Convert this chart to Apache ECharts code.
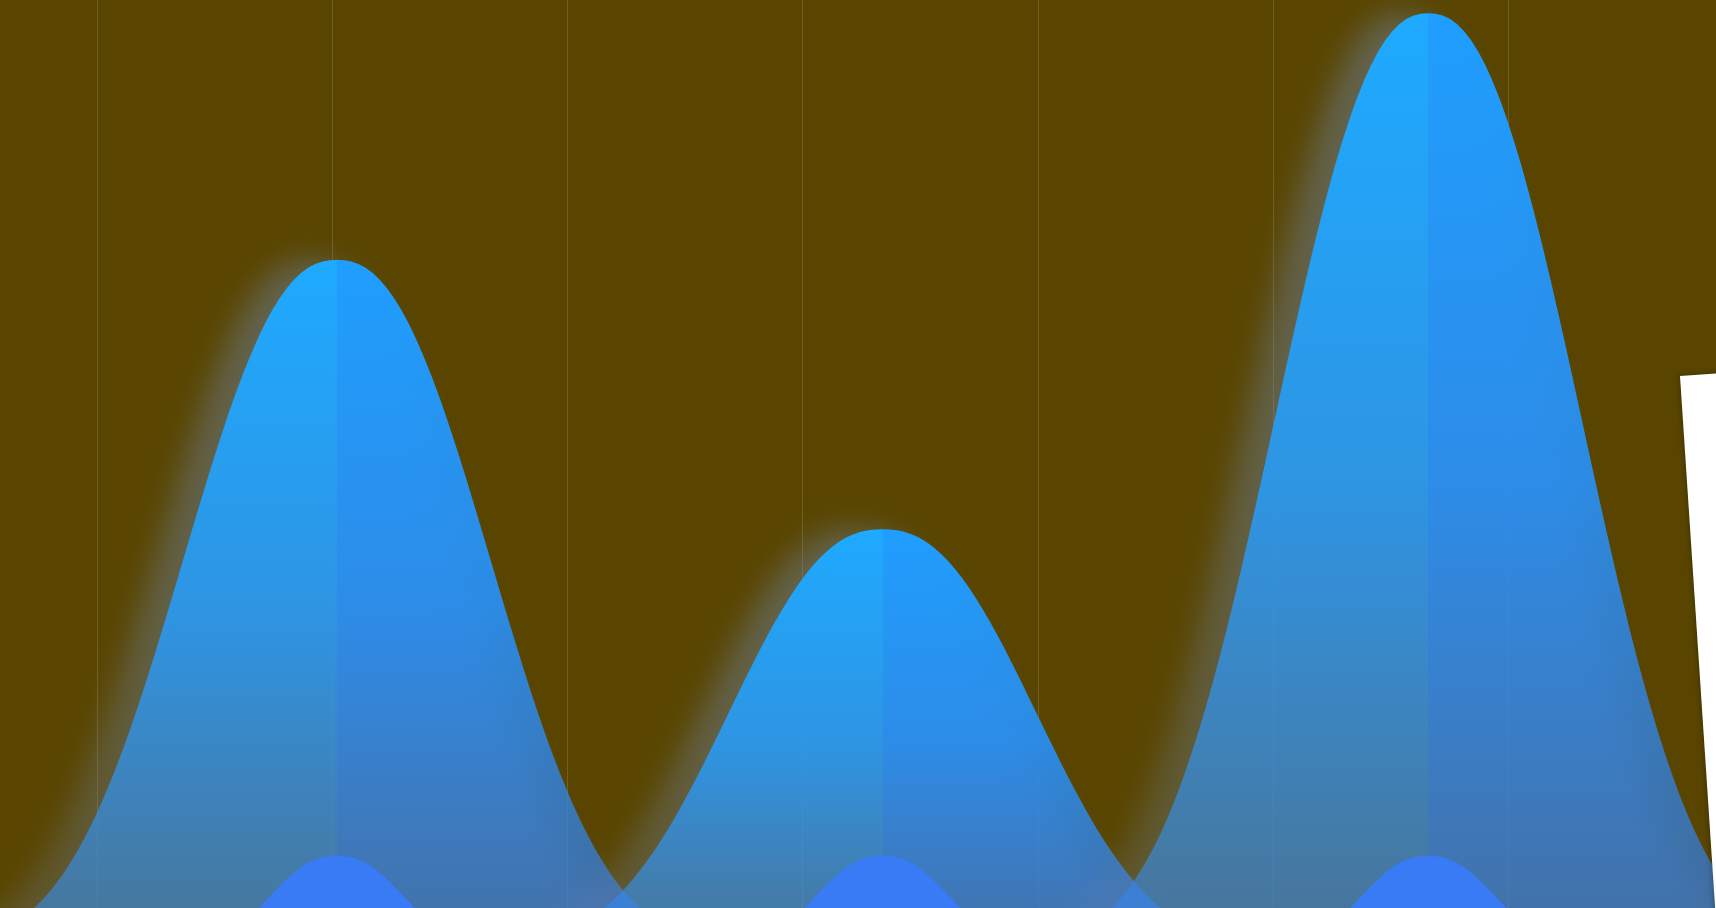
<!DOCTYPE html>
<html>
<head>
<meta charset="utf-8">
<script src="https://cdn.jsdelivr.net/npm/echarts@6/dist/echarts.min.js"></script>
<style>
html,body{margin:0;padding:0;background:#594500;}
#chart{width:1716px;height:908px;}
</style>
</head>
<body>
<div id="chart"></div>
<script>
// ---- data ----
const categories = ['A', 'B', 'C'];
const peakValues = [72.7, 44.4, 98.6];
const baseValues = [10.1, 10.1, 10.1];
const gridTicks = [0, 1, 2, 3, 4, 5, 6];

// ---- bell symbol shape ----
function bellPath() {
  const pts = [];
  const n = 120;
  for (let i = 0; i <= n; i++) {
    const u = -1 + 2 * i / n;
    const h = Math.exp(-Math.pow(Math.abs(u) * 2.2, 2.33));
    pts.push(((u + 1) * 100).toFixed(2) + ',' + ((1 - h) * 100).toFixed(2));
  }
  return 'path://M0,100 L' + pts.join(' L') + ' L200,100 Z';
}
const bell = bellPath();

const chart = echarts.init(document.getElementById('chart'));
chart.setOption({
  backgroundColor: '#594500',
  animation: false,
  grid: [
    { left: 97.4, width: 1410.6, top: 0, height: 908, outerBoundsMode: 'none' },
    { left: 64, width: 1637, top: 0, height: 952, outerBoundsMode: 'none' }
  ],
  xAxis: [
    { type: 'value', gridIndex: 0, min: gridTicks[0], max: gridTicks[gridTicks.length - 1], interval: 1,
      axisLine: { show: false }, axisTick: { show: false }, axisLabel: { show: false },
      splitLine: { show: true, lineStyle: { color: 'rgba(255,255,255,0.14)', width: 1 } } },
    { type: 'category', gridIndex: 1, data: categories,
      axisLine: { show: false }, axisTick: { show: false }, axisLabel: { show: false },
      splitLine: { show: false } }
  ],
  yAxis: [
    { type: 'value', gridIndex: 0, min: 0, max: 1, show: false, splitLine: { show: false } },
    { type: 'value', gridIndex: 1, min: 0, max: 100, show: false, splitLine: { show: false } }
  ],
  graphic: [{
    type: 'rect',
    x: 1680, y: 376,
    rotation: 0.066,
    shape: { x: 0, y: 0, width: 400, height: 1000 },
    style: { fill: '#ffffff', shadowBlur: 6, shadowColor: 'rgba(0,0,0,0.35)' },
    z: 100
  }],
  series: [
    {
      type: 'pictorialBar', xAxisIndex: 1, yAxisIndex: 1,
      data: peakValues,
      symbol: bell, symbolSize: [862, '100%'], barGap: '-100%',
      itemStyle: {
        color: { type: 'linear', x: 0, y: 0, x2: 0, y2: 1, colorStops: [
          { offset: 0, color: 'rgba(30,170,255,1)' },
          { offset: 0.5, color: 'rgba(40,155,245,0.9)' },
          { offset: 1, color: 'rgba(55,140,235,0.55)' }
        ] },
        shadowBlur: 30, shadowColor: 'rgba(110,135,175,0.45)', shadowOffsetX: -28
      },
      z: 2
    },
    {
      type: 'pictorialBar', xAxisIndex: 1, yAxisIndex: 1,
      data: peakValues, silent: true,
      symbol: bell, symbolSize: [862, '100%'], barGap: '-100%',
      itemStyle: {
        color: { type: 'linear', x: 0, y: 0, x2: 1, y2: 0, colorStops: [
          { offset: 0, color: 'rgba(40,90,255,0)' },
          { offset: 0.5, color: 'rgba(40,90,255,0)' },
          { offset: 0.5, color: 'rgba(40,90,255,0.15)' },
          { offset: 1, color: 'rgba(40,90,255,0.15)' }
        ] }
      },
      z: 3
    },
    {
      type: 'pictorialBar', xAxisIndex: 1, yAxisIndex: 1,
      data: baseValues,
      symbol: bell, symbolSize: [382, '100%'], barGap: '-100%',
      itemStyle: { color: '#387bf5' },
      z: 4
    }
  ]
});
</script>
</body>
</html>
